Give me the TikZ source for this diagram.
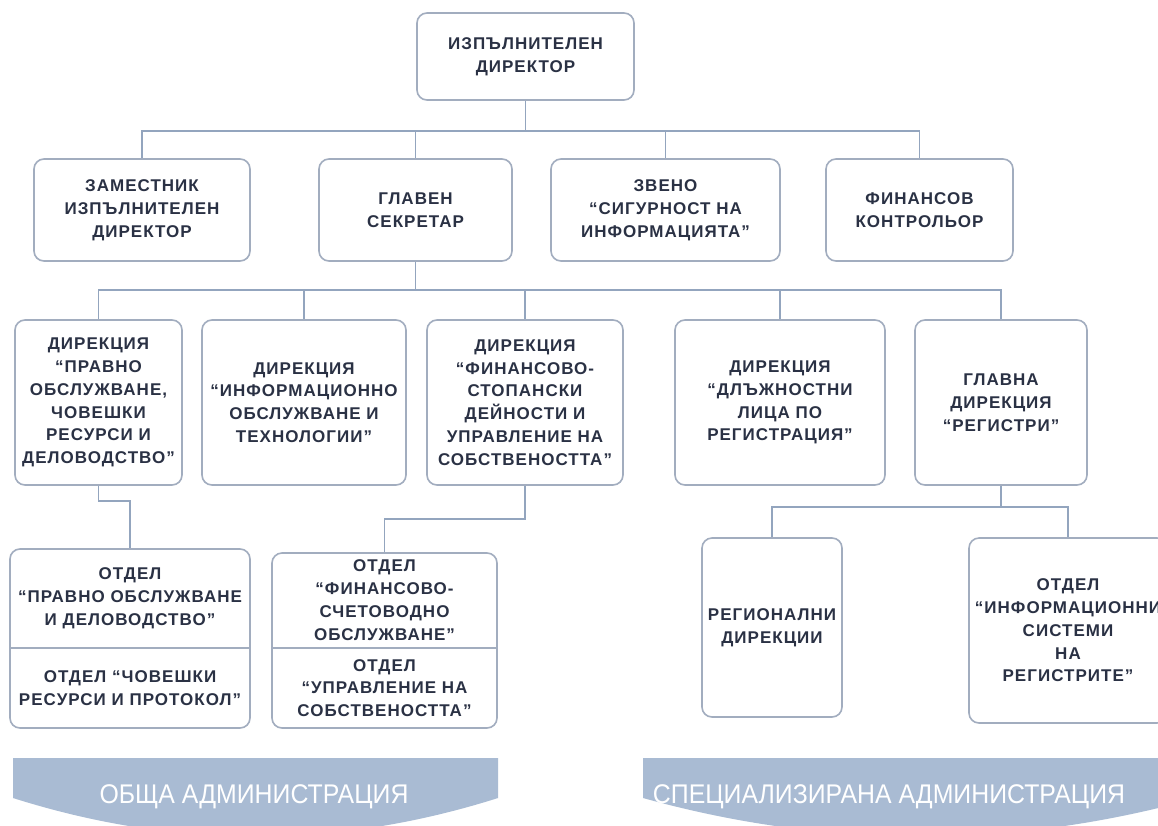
\documentclass[tikz,border=0pt]{standalone}
\usepackage{fontspec}
\setmainfont{Liberation Sans}
\newfontfamily\boxfont{Liberation Sans}[LetterSpace=6]
\newfontfamily\banfont{Liberation Sans}[FakeStretch=0.92]
\definecolor{bordercol}{HTML}{A2ADBF}
\definecolor{linecol}{HTML}{93A5BE}
\definecolor{txtcol}{HTML}{2A3144}
\definecolor{bannercol}{HTML}{A9BBD3}
\tikzset{
  box/.style={draw=bordercol, line width=1.6pt, rounded corners=10pt, fill=white,
    align=center, text=txtcol, inner sep=0pt,
    font=\boxfont\bfseries\fontsize{17}{22.8}\selectfont},
  boxtext/.style={align=center, text=txtcol, inner sep=0pt,
    font=\boxfont\bfseries\fontsize{17}{22.8}\selectfont},
  conn/.style={draw=linecol, line width=1.8pt},
  divider/.style={draw=bordercol, line width=1.6pt},
  bannertxt/.style={text=white, inner sep=0pt, anchor=base,
    font=\banfont\fontsize{27}{30}\selectfont},
}
\begin{document}
\begin{tikzpicture}[x=1pt,y=-1pt]
\clip (0,0) rectangle (1158,825);
\fill[white] (0,0) rectangle (1158,825);

% level 1
\node[box, minimum width=217pt, minimum height=87pt] (top) at (525.5,56.5) {ИЗПЪЛНИТЕЛЕН\\ДИРЕКТОР};

% level 2
\node[box, minimum width=216pt, minimum height=102pt] (zam) at (142,210) {ЗАМЕСТНИК\\ИЗПЪЛНИТЕЛЕН\\ДИРЕКТОР};
\node[box, minimum width=193pt, minimum height=102pt] (glav) at (415.5,210) {ГЛАВЕН\\СЕКРЕТАР};
\node[box, minimum width=229pt, minimum height=102pt] (zveno) at (665.5,210) {ЗВЕНО\\“СИГУРНОСТ НА\\ИНФОРМАЦИЯТА”};
\node[box, minimum width=187pt, minimum height=102pt] (fk) at (919.5,210) {ФИНАНСОВ\\КОНТРОЛЬОР};

% level 3
\node[box, minimum width=167pt, minimum height=165pt] (pravno) at (98.5,402.5) {ДИРЕКЦИЯ\\“ПРАВНО\\ОБСЛУЖВАНЕ,\\ЧОВЕШКИ\\РЕСУРСИ И\\ДЕЛОВОДСТВО”};
\node[box, minimum width=204pt, minimum height=165pt] (info) at (304,402.5) {ДИРЕКЦИЯ\\“ИНФОРМАЦИОННО\\ОБСЛУЖВАНЕ И\\ТЕХНОЛОГИИ”};
\node[box, minimum width=196pt, minimum height=165pt] (fin) at (525,402.5) {ДИРЕКЦИЯ\\“ФИНАНСОВО-\\СТОПАНСКИ\\ДЕЙНОСТИ И\\УПРАВЛЕНИЕ НА\\СОБСТВЕНОСТТА”};
\node[box, minimum width=210pt, minimum height=165pt] (dlazh) at (780,402.5) {ДИРЕКЦИЯ\\“ДЛЪЖНОСТНИ\\ЛИЦА ПО\\РЕГИСТРАЦИЯ”};
\node[box, minimum width=172pt, minimum height=165pt] (glavna) at (1001,402.5) {ГЛАВНА\\ДИРЕКЦИЯ\\“РЕГИСТРИ”};

% level 4
\node[box, minimum width=240pt, minimum height=179pt] (otdel1) at (130,638.5) {};
\coordinate (d1l) at (10,648);
\coordinate (d1r) at (250,648);
\draw[divider] (d1l) -- (d1r);
\node[boxtext] (o1a) at (130,598.5) {ОТДЕЛ\\“ПРАВНО ОБСЛУЖВАНЕ\\И ДЕЛОВОДСТВО”};
\node[boxtext] (o1b) at (130,688) {ОТДЕЛ “ЧОВЕШКИ\\РЕСУРСИ И ПРОТОКОЛ”};

\node[box, minimum width=225pt, minimum height=175pt] (otdel2) at (384.5,640.5) {};
\coordinate (d2l) at (272,648);
\coordinate (d2r) at (497,648);
\draw[divider] (d2l) -- (d2r);
\node[boxtext] (o2a) at (384.5,600) {ОТДЕЛ\\“ФИНАНСОВО-\\СЧЕТОВОДНО\\ОБСЛУЖВАНЕ”};
\node[boxtext] (o2b) at (384.5,688) {ОТДЕЛ\\“УПРАВЛЕНИЕ НА\\СОБСТВЕНОСТТА”};

\node[box, minimum width=140pt, minimum height=179pt] (reg) at (772,627.5) {РЕГИОНАЛНИ\\ДИРЕКЦИИ};
\node[box, minimum width=198pt, minimum height=185pt] (otdinf) at (1068,630.5) {ОТДЕЛ\\“ИНФОРМАЦИОННИ\\СИСТЕМИ\\НА\\РЕГИСТРИТЕ”};

% connectors
\coordinate (j1) at (525.5,131);
\draw[conn] (top.south) -- (j1);
\draw[conn] (j1) -| (zam.north);
\draw[conn] (j1) -| (glav.north);
\draw[conn] (j1) -| (zveno.north);
\draw[conn] (j1) -| (fk.north);

\coordinate (j2) at (415.5,290);
\draw[conn] (glav.south) -- (j2);
\draw[conn] (j2) -| (pravno.north);
\draw[conn] (j2) -| (info.north);
\draw[conn] (j2) -| (fin.north);
\draw[conn] (j2) -| (dlazh.north);
\draw[conn] (j2) -| (glavna.north);

\draw[conn] (pravno.south) -- ++(0,15) -| (otdel1.north);
\draw[conn] (fin.south) -- ++(0,33) -| (otdel2.north);

\coordinate (j3) at (1001,507);
\draw[conn] (glavna.south) -- (j3);
\draw[conn] (j3) -| (reg.north);
\draw[conn] (j3) -| (otdinf.north);

% banners
\fill[bannercol] (13,758) -- (498,758) -- (498,798)
  .. controls (336.3,849.3) and (174.7,849.3) .. (13,798) -- cycle;
\fill[bannercol] (643,758) -- (1197,758) -- (1197,798)
  .. controls (1012.3,849.3) and (827.7,849.3) .. (643,798) -- cycle;
\node[bannertxt] (b1) at (254,803) {ОБЩА АДМИНИСТРАЦИЯ};
\node[bannertxt] (b2) at (889,803) {СПЕЦИАЛИЗИРАНА АДМИНИСТРАЦИЯ};
\end{tikzpicture}
\end{document}
